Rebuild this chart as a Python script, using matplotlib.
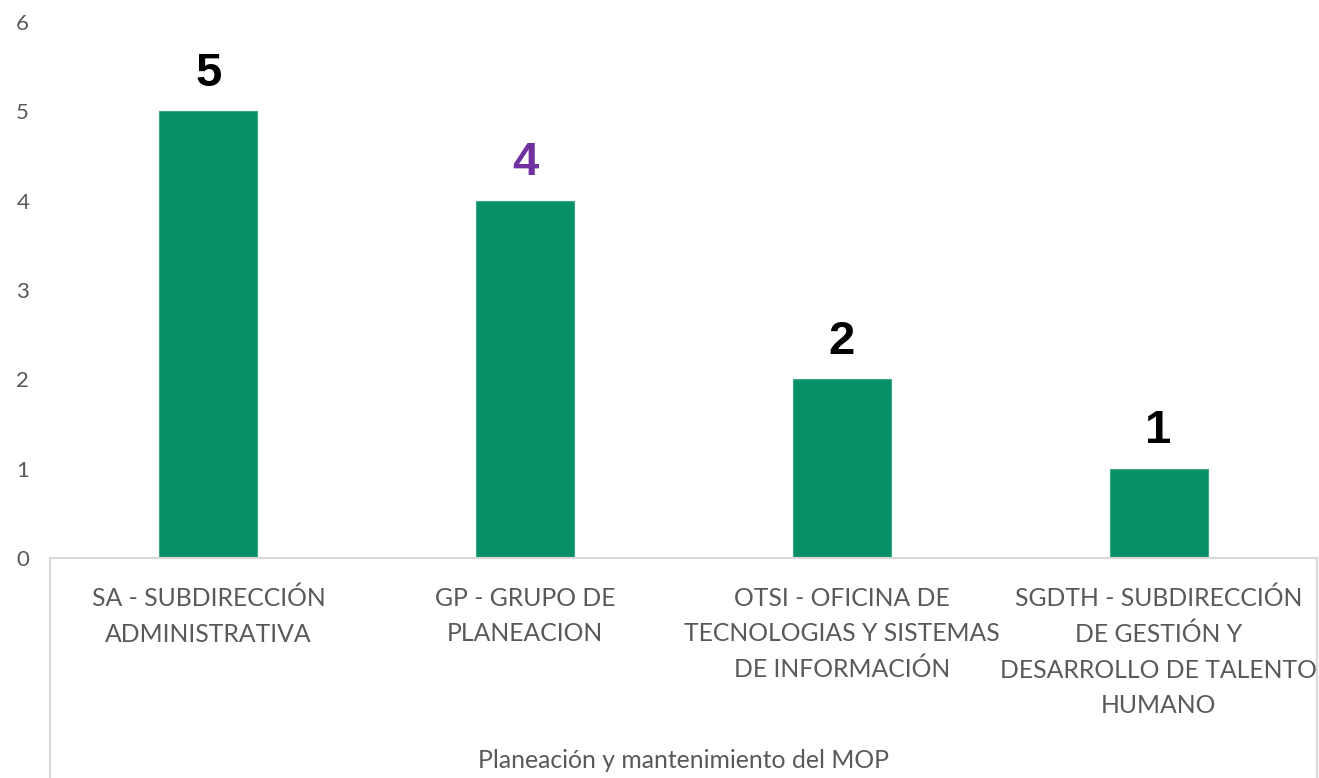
import matplotlib
matplotlib.use("Agg")
import matplotlib.pyplot as plt
from matplotlib.lines import Line2D

categories = [
    "SA - SUBDIRECCIÓN\nADMINISTRATIVA",
    "GP - GRUPO DE\nPLANEACION",
    "OTSI - OFICINA DE\nTECNOLOGIAS Y SISTEMAS\nDE INFORMACIÓN",
    "SGDTH - SUBDIRECCIÓN\nDE GESTIÓN Y\nDESARROLLO DE TALENTO\nHUMANO",
]
values = [5, 4, 2, 1]
label_colors = ["black", "#7030A0", "black", "black"]
group_label = "Planeación y mantenimiento del MOP"

W, H = 1319, 778
fig = plt.figure(figsize=(W / 100, H / 100), dpi=100)
ax_left, ax_right, ax_top, ax_bottom = 50, 1317, 22, 558
ax = fig.add_axes([ax_left / W, 1 - ax_bottom / H, (ax_right - ax_left) / W, (ax_bottom - ax_top) / H])

x = list(range(len(values)))
ax.bar(x, values, width=0.31, color="#079068", edgecolor="#3aa886", linewidth=0.8)
ax.set_xlim(-0.5, len(values) - 0.5)
ax.set_ylim(0, 6)

for xi, v, c in zip(x, values, label_colors):
    ax.annotate(str(v), (xi, v), xytext=(0, 11), textcoords="offset points",
                ha="center", va="bottom", fontsize=34, fontweight="bold",
                family="Liberation Sans", color=c)

for s in ["top", "right", "left"]:
    ax.spines[s].set_visible(False)
ax.spines["bottom"].set_color("#d9d9d9")
ax.spines["bottom"].set_linewidth(1.5)

ax.set_yticks(range(0, 7))
ax.tick_params(axis="y", length=0, pad=15, labelsize=16, labelcolor="#595959")
for t in ax.get_yticklabels():
    t.set_family("Lato")
ax.set_xticks([])

trans = ax.get_xaxis_transform()
for xi, lab in zip(x, categories):
    ax.text(xi, -0.054, lab, transform=trans, ha="center", va="top",
            fontsize=17.8, family="Lato", color="#595959", linespacing=1.64)

ax.text(0.5, 1 - (760 - ax_top) / (ax_bottom - ax_top), group_label, transform=ax.transAxes,
        ha="center", va="center", fontsize=17.8, family="Lato", color="#595959")

# frame lines of the multi-level category axis
for px in (ax_left, ax_right):
    fig.add_artist(Line2D([px / W, px / W], [0, 1 - ax_bottom / H], color="#d9d9d9", lw=1.5))

fig.savefig("out.png", dpi=100)
